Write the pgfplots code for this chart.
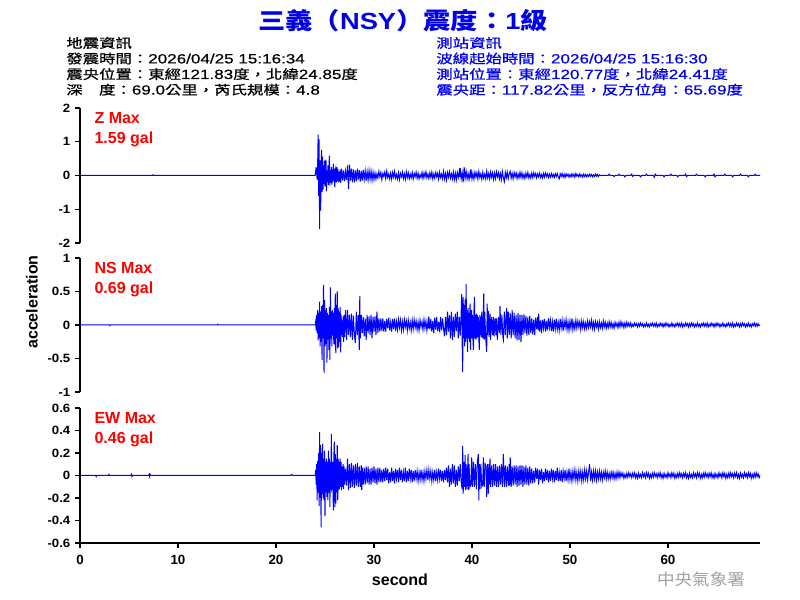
\documentclass[border=0pt]{standalone}
\usepackage{pgfplots}
\pgfplotsset{compat=1.18}
\usepackage{fontspec}
\setmainfont{Liberation Sans}
\newfontfamily\cjk[Scale=0.96, FakeBold=0.6]{Noto Sans CJK TC}
\newfontfamily\hlat[FakeBold=0.4]{Liberation Sans}
\newfontfamily\cjkt{Noto Sans CJK TC}
\definecolor{tr}{RGB}{0,0,255}
\definecolor{hb}{RGB}{0,0,235}
\definecolor{wm}{RGB}{160,160,160}
\pgfplotsset{
  panel/.style={
    scale only axis, width=510pt, xmin=0, xmax=69.39,
    axis y line*=left,
    axis line style={line width=0.9pt, black},
    tick align=outside, major tick length=3.4pt,
    tick style={black, line width=0.8pt},
    yticklabel style={font=\bfseries\fontsize{9}{10}\selectfont, xscale=1.1},
    xticklabel style={font=\bfseries\fontsize{10}{12}\selectfont, yshift=-2pt},
  },
  trace/.style={tr, line width=0.75pt, line join=miter},
}
\begin{document}
\begin{tikzpicture}[x=0.75pt,y=0.75pt]
\useasboundingbox (0,0) rectangle (800,600);

% ---------- Z ----------
\begin{axis}[panel, at={(60pt,267.75pt)}, anchor=south west, height=101.25pt,
  axis x line=none, ymin=-2, ymax=2, ytick={-2,-1,0,1,2}, yticklabels={-2,-1,0,1,2}]
\addplot[trace] table {
t y
0 0
7.4 0
7.45 0.02
7.5 0
24.0 0
24.1 0.25
24.2 -0.12
24.25 0.3
24.3 1.21
24.35 -0.6
24.4 1.07
24.45 -1.59
24.5 0.45
24.55 -1.04
24.6 -0.3
24.65 0.76
24.7 -0.49
24.75 0.56
24.8 -0.42
24.85 0.3
24.9 -0.25
24.95 0.44
25.0 -0.32
25.05 0.2
25.1 0.47
25.15 -0.46
25.2 0.15
25.25 -0.2
25.3 0.3
25.35 -0.28
25.4 0.2
25.45 0.59
25.5 -0.3
25.55 0.15
25.6 -0.22
25.65 0.25
25.7 -0.27
25.75 0.18
25.8 -0.2
25.85 0.35
25.9 -0.15
25.95 0.2
26.0 -0.35
26.05 0.15
26.1 0.22
26.15 -0.2
26.2 0.25
26.25 -0.15
26.3 0.2
26.35 -0.2
26.4 0.12
26.5 -0.18
26.55 0.18
26.6 -0.22
26.7 0.2
26.8 -0.15
26.9 0.15
27.0 -0.17
27.1 0.12
27.2 -0.13
27.3 0.3
27.4 -0.4
27.5 0.32
27.6 -0.15
27.7 0.2
27.8 -0.2
27.9 0.18
28.0 -0.2
28.1 0.15
28.2 -0.17
28.3 0.2
28.4 -0.12
28.5 0.16
28.6 -0.18
28.7 0.13
28.8 -0.15
28.9 0.17
29.0 -0.12
29.1 0.14
29.2 -0.16
29.3 0.12
29.4 -0.13
29.5 0.15
29.6 -0.11
29.7 0.13
29.8 -0.14
29.9 0.1
30.0 -0.12
30.1 0.08
30.2 -0.11
30.3 0.05
30.4 -0.07
30.5 0.12
30.6 -0.04
30.7 0.09
30.8 -0.12
30.9 0.06
31.0 -0.03
31.1 0.1
31.2 -0.09
31.3 0.13
31.4 -0.06
31.5 0.04
31.6 -0.1
31.7 0.07
31.8 -0.11
31.9 0.09
32.0 -0.05
32.1 0.12
32.2 -0.08
32.3 0.03
32.4 -0.1
32.5 0.08
32.6 -0.12
32.7 0.06
32.8 -0.04
32.9 0.1
33.0 -0.09
33.1 0.05
33.2 -0.11
33.3 0.11
33.4 -0.06
33.5 0.08
33.6 -0.1
33.7 0.04
33.8 -0.07
33.9 0.09
34.0 -0.1
34.1 0.06
34.2 -0.04
34.3 0.1
34.4 -0.08
34.5 0.07
34.6 -0.1
34.7 0.03
34.8 -0.06
34.9 0.09
35.0 -0.09
35.1 0.08
35.2 -0.05
35.3 0.11
35.4 -0.07
35.5 0.04
35.6 -0.09
35.7 0.08
35.8 -0.06
35.9 0.1
36.0 -0.1
36.1 0.05
36.2 -0.08
36.3 0.09
36.4 -0.04
36.5 0.07
36.6 -0.11
36.7 0.1
36.8 -0.06
36.9 0.04
37.0 -0.09
37.1 0.12
37.2 -0.1
37.3 0.06
37.4 -0.13
37.5 0.09
37.6 -0.05
37.7 0.11
37.8 -0.08
37.9 0.05
38.0 -0.1
38.1 0.1
38.2 -0.12
38.3 0.07
38.4 -0.13
38.5 0.09
38.6 -0.06
38.7 0.12
38.75 -0.05
38.8 0.22
38.9 -0.1
39.0 0.08
39.1 -0.2
39.2 0.25
39.3 -0.09
39.4 0.12
39.5 -0.1
39.6 0.06
39.7 -0.12
39.8 0.08
39.85 -0.06
39.9 0.18
40.0 -0.1
40.1 0.07
40.2 -0.11
40.3 0.1
40.4 -0.05
40.5 0.09
40.6 -0.1
40.7 0.12
40.8 -0.06
40.9 0.05
41.0 -0.11
41.1 0.09
41.2 -0.08
41.3 0.04
41.4 -0.1
41.5 0.13
41.6 -0.07
41.7 0.06
41.8 -0.1
41.9 0.1
42.0 -0.05
42.1 0.08
42.2 -0.11
42.3 0.07
42.4 -0.09
42.5 0.11
42.6 -0.04
42.7 0.08
42.8 -0.1
42.9 0.06
43.0 -0.12
43.1 0.12
43.2 -0.06
43.3 -0.18
43.4 0.09
43.5 -0.07
43.6 0.1
43.7 -0.09
43.8 0.05
43.9 0.12
44.0 -0.08
44.1 0.06
44.2 -0.1
44.3 0.09
44.4 -0.04
44.5 0.08
44.6 -0.09
44.7 0.05
44.8 -0.07
44.9 0.1
45.0 -0.06
45.1 0.08
45.2 -0.08
45.3 0.04
45.4 -0.09
45.5 0.07
45.6 -0.05
45.7 0.09
45.8 -0.07
45.9 0.03
46.0 -0.08
46.1 0.07
46.2 -0.06
46.3 0.08
46.4 -0.03
46.5 0.06
46.6 -0.07
46.7 0.05
46.8 -0.04
46.9 0.07
47.0 -0.06
47.1 0.03
47.2 -0.07
47.3 0.06
47.4 -0.05
47.5 0.07
47.6 -0.03
47.7 0.05
47.8 -0.06
47.9 0.04
48.0 -0.05
48.1 0.06
48.2 -0.04
48.3 0.03
48.4 -0.06
48.5 0.05
48.6 -0.03
48.7 0.06
48.8 -0.04
48.9 -0.1
49.0 0.05
49.1 -0.03
49.2 0.06
49.3 -0.05
49.4 0.04
49.5 -0.06
49.6 0.05
49.7 -0.02
49.8 0.04
49.9 -0.05
50.0 0.03
50.1 -0.04
50.2 0.05
50.3 -0.03
50.4 0.04
50.5 -0.05
50.6 0.06
50.7 -0.02
50.8 0.03
50.9 -0.04
51.0 0.05
51.1 -0.03
51.2 0.02
51.3 -0.05
51.4 0.04
51.5 -0.03
51.6 0.03
51.7 -0.04
51.8 0.02
51.9 -0.03
52.0 0.04
52.1 -0.02
52.2 0.03
52.3 -0.04
52.4 0.02
52.5 -0.03
52.6 0.04
52.7 -0.02
52.8 0.03
52.9 -0.03
53.0 0.02
53.1 0
53.9 0
54.0 0.04
54.1 0
54.4 0
54.5 -0.03
54.6 0
54.9 0
55.0 0.04
55.1 0
55.5 0
55.6 -0.04
55.7 0
56.2 0
56.3 0.04
56.4 -0.03
56.5 0
57.1 0
57.2 -0.04
57.3 0
57.7 0
57.8 0.04
57.9 0
58.5 0
58.6 -0.05
58.7 0.04
58.8 0
59.5 0
59.6 -0.04
59.7 0
60.2 0
60.3 0.04
60.4 0
60.9 0
61.0 -0.04
61.1 0
61.7 0
61.8 0.04
61.9 -0.03
62.0 0
62.8 0
62.9 0.04
63.0 0
63.7 0
63.8 -0.04
63.9 0
64.6 0
64.7 0.04
64.8 -0.04
64.9 0
65.7 0
65.8 0.04
65.9 0
66.5 0
66.6 -0.04
66.7 0
67.3 0
67.4 0.04
67.5 0
68.1 0
68.2 -0.04
68.3 0
68.8 0
68.9 0.04
69.0 0
69.39 0
};
\end{axis}

% ---------- NS ----------
\begin{axis}[panel, at={(60pt,156pt)}, anchor=south west, height=100.5pt,
  axis x line=none, ymin=-1, ymax=1, ytick={-1,-0.5,0,0.5,1}, yticklabels={-1,-0.5,0,0.5,1}]
\addplot[trace] table {
t y
0 0
3.0 0
3.05 -0.01
3.1 0
14.0 0
14.05 0.01
14.1 0
24.00 0
24.05 0.05
24.10 -0.08
24.15 0.15
24.20 -0.12
24.25 0.22
24.30 -0.23
24.35 0.18
24.40 -0.2
24.45 0.35
24.50 -0.32
24.55 0.2
24.60 -0.25
24.65 0.28
24.70 -0.52
24.75 0.3
24.80 -0.2
24.85 0.6
24.90 -0.71
24.95 0.37
25.00 -0.32
25.05 0.22
25.10 -0.28
25.15 0.25
25.20 -0.56
25.25 0.18
25.30 -0.22
25.35 0.15
25.40 -0.37
25.45 0.27
25.50 -0.52
25.55 0.56
25.60 -0.2
25.65 0.2
25.70 -0.32
25.75 0.22
25.80 -0.15
25.85 0.18
25.90 -0.28
25.95 0.25
26.00 -0.3
26.05 0.47
26.10 -0.42
26.15 0.3
26.20 -0.2
26.25 0.5
26.30 -0.35
26.35 0.25
26.40 -0.33
26.45 0.2
26.50 -0.25
26.55 0.27
26.60 -0.41
26.65 0.15
26.70 -0.15
26.75 0.07
26.80 -0.18
26.85 0.13
26.90 -0.25
26.95 0.15
27.00 -0.18
27.1 0.22
27.2 -0.22
27.3 0.22
27.4 -0.15
27.5 0.15
27.6 -0.18
27.7 0.17
27.8 -0.22
27.9 0.14
28.0 -0.15
28.1 -0.27
28.2 0.2
28.3 -0.15
28.4 0.15
28.5 -0.37
28.55 0.43
28.6 -0.2
28.7 0.15
28.8 -0.12
28.9 0.12
29.0 -0.17
29.1 0.1
29.2 -0.22
29.3 0.15
29.4 -0.12
29.5 0.13
29.6 -0.15
29.7 0.15
29.8 -0.2
29.9 0.12
30.0 -0.1
30.1 0.13
30.2 -0.15
30.3 0.2
30.4 -0.12
30.5 0.1
30.6 -0.1
30.7 0.1
30.8 -0.09
30.9 0.1
31.0 -0.1
31.1 0.06
31.2 -0.1
31.3 0.09
31.4 -0.05
31.5 0.11
31.6 -0.08
31.7 0.04
31.8 -0.1
31.9 0.09
32.0 -0.06
32.1 0.1
32.2 -0.09
32.3 0.05
32.4 -0.07
32.5 0.08
32.6 -0.04
32.7 0.07
32.8 -0.08
32.9 0.05
33.0 -0.07
33.1 0.08
33.2 -0.03
33.3 0.06
33.4 -0.08
33.5 0.07
33.6 -0.05
33.7 0.04
33.8 -0.08
33.9 0.07
34.0 -0.06
34.1 0.08
34.2 -0.04
34.3 0.06
34.4 -0.07
34.5 0.05
34.6 -0.08
34.7 0.07
34.8 -0.03
34.9 0.05
35.0 -0.07
35.1 0.08
35.2 -0.05
35.3 0.06
35.4 -0.08
35.5 0.04
35.55 -0.05
35.6 0.13
35.7 -0.07
35.8 0.09
35.9 -0.1
36.0 0.06
36.1 -0.12
36.2 0.11
36.3 -0.07
36.4 0.12
36.5 -0.09
36.6 0.05
36.7 -0.11
36.8 0.12
36.9 -0.08
37.0 0.1
37.1 -0.06
37.2 -0.17
37.3 0.12
37.4 -0.15
37.5 0.2
37.6 -0.1
37.7 0.15
37.8 -0.2
37.9 0.2
38.0 -0.22
38.1 0.12
38.2 -0.18
38.3 0.17
38.4 -0.09
38.5 0.2
38.6 -0.2
38.7 0.12
38.8 -0.16
38.90 0.2
38.95 0.46
39.00 -0.3
39.05 -0.7
39.10 0.42
39.15 -0.2
39.20 0.3
39.25 -0.32
39.30 0.38
39.35 -0.25
39.40 0.61
39.45 -0.2
39.50 0.22
39.55 -0.4
39.60 0.25
39.65 -0.2
39.70 0.18
39.75 -0.25
39.80 0.32
39.85 -0.37
39.90 0.15
39.95 0.22
40.00 -0.2
40.05 0.15
40.10 -0.22
40.15 -0.37
40.20 0.2
40.25 0.42
40.30 -0.2
40.35 0.15
40.40 -0.22
40.45 0.17
40.50 -0.2
40.55 0.15
40.60 -0.18
40.65 0.12
40.70 -0.22
40.75 -0.37
40.80 0.15
40.85 -0.15
40.90 0.12
40.95 -0.18
41.00 0.2
41.1 -0.2
41.2 0.47
41.25 -0.22
41.3 0.2
41.4 -0.2
41.5 -0.4
41.55 0.32
41.6 -0.15
41.67 0.21
41.75 -0.18
41.84 0.17
41.9 -0.22
42.0 0.12
42.1 -0.15
42.18 0.12
42.25 -0.17
42.35 0.1
42.45 -0.15
42.5 0.1
42.59 -0.22
42.7 0.12
42.8 -0.12
42.86 0.28
42.95 -0.15
43.05 0.15
43.15 -0.18
43.2 -0.22
43.3 0.2
43.4 -0.15
43.5 0.18
43.54 0.25
43.6 -0.2
43.7 0.2
43.8 -0.15
43.9 0.18
44.0 -0.2
44.1 0.22
44.2 -0.15
44.3 0.18
44.4 -0.2
44.5 0.15
44.6 -0.23
44.7 0.18
44.8 -0.22
44.9 0.15
45.0 -0.25
45.1 0.15
45.2 -0.15
45.3 0.16
45.4 -0.12
45.5 0.14
45.6 -0.16
45.7 0.12
45.8 -0.15
45.9 0.14
46.0 -0.12
46.1 0.1
46.2 -0.14
46.3 0.08
46.4 -0.15
46.5 0.11
46.6 -0.06
46.7 0.12
46.75 -0.08
46.8 0.17
46.9 -0.1
47.0 0.07
47.1 -0.12
47.2 0.08
47.3 -0.05
47.4 0.09
47.5 -0.1
47.6 0.06
47.7 -0.08
47.8 0.1
47.9 -0.04
48.0 0.07
48.1 -0.09
48.2 0.05
48.3 -0.1
48.4 0.08
48.5 -0.06
48.6 0.09
48.7 -0.07
48.8 0.04
48.9 -0.08
49.0 0.09
49.1 -0.05
49.2 0.07
49.3 -0.09
49.4 0.06
49.5 -0.04
49.6 0.08
49.7 -0.07
49.8 0.05
49.9 -0.08
50.0 0.06
50.1 -0.05
50.2 0.1
50.3 -0.07
50.4 0.04
50.5 -0.06
50.6 0.07
50.7 -0.05
50.8 0.06
50.9 -0.03
51.0 0.05
51.1 -0.07
51.2 0.06
51.3 -0.04
51.4 0.05
51.5 -0.06
51.6 0.03
51.7 -0.05
51.8 0.06
51.9 -0.04
52.0 0.05
52.1 -0.03
52.2 0.07
52.3 -0.05
52.4 0.04
52.5 -0.06
52.6 0.05
52.7 -0.03
52.8 0.04
52.9 -0.06
53.0 0.05
53.1 -0.04
53.2 0.03
53.3 -0.05
53.4 0.06
53.5 -0.03
53.6 0.04
53.7 -0.05
53.8 0.03
53.9 -0.04
54.0 0.05
54.1 -0.03
54.2 0.04
54.3 -0.04
54.4 0.02
54.5 -0.05
54.6 0.04
54.7 -0.02
54.8 0.03
54.9 -0.04
55.0 0.04
55.1 -0.03
55.2 0.05
55.3 -0.02
55.4 0.03
55.5 -0.04
55.6 0.03
55.7 -0.03
55.8 0.04
55.9 -0.02
56.0 0.03
56.1 -0.02
56.2 0.03
56.3 -0.03
56.4 0.01
56.5 -0.02
56.6 0.03
56.7 -0.01
56.8 0.02
56.9 -0.03
57.0 0.02
57.1 -0.02
57.2 0.03
57.3 -0.01
57.4 0.02
57.5 -0.03
57.6 0.01
57.7 -0.02
57.8 0.03
57.9 -0.02
58.0 0.01
58.1 -0.03
58.2 0.02
58.3 -0.01
58.4 0.03
58.5 -0.02
58.6 0.02
58.7 -0.02
58.8 0.03
58.9 -0.03
59.0 0.01
59.1 -0.02
59.2 0.03
59.3 -0.01
59.4 0.02
59.5 -0.03
59.6 0.02
59.7 -0.02
59.8 0.03
59.9 -0.01
60.0 0.02
60.1 -0.03
60.2 0.01
60.3 -0.02
60.4 0.03
60.5 -0.02
60.6 0.01
60.7 -0.03
60.8 0.02
60.9 -0.01
61.0 0.03
61.1 -0.02
61.2 0.02
61.3 -0.02
61.4 0.03
61.5 -0.03
61.6 0.01
61.7 -0.02
61.8 0.03
61.9 -0.01
62.0 0.02
62.1 -0.03
62.2 0.02
62.3 -0.02
62.4 0.03
62.5 -0.01
62.6 0.02
62.7 -0.03
62.8 0.01
62.9 -0.02
63.0 0.03
63.1 -0.02
63.2 0.01
63.3 -0.03
63.4 0.02
63.5 -0.01
63.6 0.03
63.7 -0.02
63.8 0.02
63.9 -0.02
64.0 0.03
64.1 -0.03
64.2 0.01
64.3 -0.02
64.4 0.03
64.5 -0.01
64.6 0.02
64.7 -0.03
64.8 0.02
64.9 -0.02
65.0 0.03
65.1 -0.01
65.2 0.02
65.3 -0.03
65.4 0.01
65.5 -0.02
65.6 0.03
65.7 -0.02
65.8 0.01
65.9 -0.03
66.0 0.02
66.1 -0.01
66.2 0.03
66.3 -0.02
66.4 0.02
66.5 -0.02
66.6 0.03
66.7 -0.03
66.8 0.01
66.9 -0.02
67.0 0.03
67.1 -0.01
67.2 0.02
67.3 -0.03
67.4 0.02
67.5 -0.02
67.6 0.03
67.7 -0.01
67.8 0.02
67.9 -0.03
68.0 0.01
68.1 -0.02
68.2 0.03
68.3 -0.02
68.4 0.01
68.5 -0.03
68.6 0.02
68.7 -0.01
68.8 0.03
68.9 -0.02
69.0 0.02
69.1 -0.02
69.2 0.02
69.3 -0.01
69.39 0
};
\end{axis}

% ---------- EW ----------
\begin{axis}[panel, at={(60pt,42.75pt)}, anchor=south west, height=101.25pt,
  axis x line*=bottom, ymin=-0.6, ymax=0.6,
  ytick={-0.6,-0.4,-0.2,0,0.2,0.4,0.6}, yticklabels={-0.6,-0.4,-0.2,0,0.2,0.4,0.6},
  xtick={0,10,20,30,40,50,60}, xticklabels={0,10,20,30,40,50,60}]
\addplot[trace] table {
t y
0 0
1.6 0
1.65 -0.01
1.7 0
2.9 0
2.95 0.01
3.0 0
5.2 0
5.25 0.01
5.3 -0.01
5.35 0
7.0 0
7.05 0.01
7.1 -0.01
7.15 0.01
7.2 0
21.5 0
21.6 0.01
21.7 0
24.00 0
24.05 0.05
24.10 -0.08
24.15 0.1
24.20 -0.22
24.25 0.13
24.30 -0.15
24.35 0.2
24.40 -0.27
24.45 0.385
24.50 -0.2
24.55 0.27
24.60 -0.46
24.65 0.2
24.70 -0.16
24.75 0.28
24.80 -0.2
24.85 0.15
24.90 -0.22
24.95 0.22
25.00 -0.36
25.05 0.12
25.10 -0.15
25.15 0.15
25.20 -0.19
25.25 0.12
25.30 -0.22
25.35 0.22
25.40 -0.15
25.45 0.15
25.50 -0.28
25.55 0.12
25.60 -0.13
25.65 0.37
25.70 -0.12
25.75 -0.1
25.80 0.12
25.85 -0.31
25.90 0.15
25.95 0.3
26.00 -0.28
26.05 0.19
26.10 -0.25
26.15 0.15
26.20 -0.15
26.25 0.27
26.30 -0.22
26.35 0.15
26.40 -0.13
26.45 0.12
26.50 -0.12
26.55 0.15
26.60 -0.1
26.65 0.12
26.70 -0.13
26.75 0.08
26.80 -0.1
26.85 0.1
26.90 -0.12
26.95 0.08
27.00 -0.08
27.1 0.06
27.2 -0.09
27.3 0.15
27.4 -0.13
27.5 0.1
27.6 -0.11
27.7 0.11
27.8 -0.1
27.9 0.09
28.0 -0.11
28.1 0.1
28.2 -0.09
28.3 0.11
28.4 -0.1
28.5 0.08
28.6 -0.1
28.7 0.09
28.75 -0.13
28.8 0.07
28.9 -0.08
29.0 0.07
29.1 -0.08
29.2 0.08
29.3 -0.07
29.4 0.08
29.5 -0.08
29.6 0.06
29.7 -0.08
29.8 0.07
29.9 -0.06
30.0 0.08
30.1 -0.07
30.2 0.06
30.3 -0.08
30.4 0.07
30.5 -0.06
30.6 0.07
30.7 -0.06
30.8 0.05
30.9 -0.06
31.0 0.06
31.1 -0.05
31.2 0.07
31.3 -0.04
31.4 0.06
31.5 -0.07
31.6 0.03
31.7 -0.06
31.8 0.07
31.9 -0.05
32.0 0.04
32.1 -0.07
32.2 0.06
32.3 -0.03
32.4 0.05
32.5 -0.06
32.6 0.07
32.7 -0.04
32.8 0.05
32.9 -0.06
33.0 0.03
33.1 -0.05
33.2 0.07
33.3 -0.06
33.4 0.04
33.5 -0.05
33.6 0.06
33.7 -0.03
33.8 0.05
33.9 -0.06
34.0 0.04
34.1 -0.05
34.2 0.05
34.3 -0.03
34.4 0.04
34.5 -0.05
34.6 0.03
34.7 -0.04
34.8 0.05
34.9 -0.04
35.0 0.03
35.1 -0.05
35.2 0.04
35.3 -0.03
35.4 0.05
35.5 -0.04
35.6 0.05
35.7 -0.03
35.8 0.04
35.9 -0.05
36.0 0.03
36.1 -0.04
36.2 0.05
36.3 -0.05
36.4 0.03
36.5 -0.04
36.6 0.06
36.7 -0.03
36.8 0.05
36.9 -0.05
37.0 0.04
37.1 -0.06
37.2 0.05
37.3 -0.04
37.4 0.07
37.5 -0.06
37.6 0.09
37.7 -0.1
37.8 0.06
37.9 -0.08
38.0 0.1
38.1 -0.07
38.2 0.09
38.3 -0.1
38.4 0.05
38.5 -0.09
38.6 0.08
38.7 -0.05
38.8 0.1
38.9 -0.06
39.0 -0.12
39.05 0.26
39.1 -0.16
39.2 0.12
39.25 -0.1
39.3 0.18
39.35 -0.13
39.4 0.1
39.5 -0.12
39.6 0.19
39.65 -0.13
39.7 0.1
39.8 -0.1
39.9 -0.08
39.97 0.16
40.05 -0.1
40.15 0.12
40.25 -0.1
40.35 0.1
40.45 -0.12
40.55 0.12
40.65 0.19
40.7 -0.22
40.75 0.1
40.82 -0.12
40.9 0.1
41.0 -0.1
41.1 -0.08
41.16 0.16
41.25 -0.1
41.35 0.1
41.45 0.08
41.5 -0.19
41.6 0.1
41.67 -0.16
41.75 0.1
41.8 -0.08
41.84 0.15
41.9 -0.1
42.0 0.09
42.1 -0.1
42.2 0.1
42.3 -0.09
42.4 0.1
42.5 -0.1
42.6 0.08
42.7 -0.1
42.8 0.09
42.9 -0.08
43.0 0.1
43.1 -0.1
43.2 0.19
43.3 -0.1
43.4 0.09
43.5 -0.1
43.6 0.08
43.7 -0.09
43.8 0.1
43.85 -0.09
43.9 0.16
44.0 -0.1
44.1 0.08
44.2 -0.09
44.3 0.09
44.4 -0.08
44.5 0.09
44.6 -0.1
44.7 0.08
44.8 -0.09
44.9 0.09
45.0 -0.08
45.1 0.09
45.2 -0.1
45.3 0.08
45.4 -0.08
45.5 0.09
45.6 -0.08
45.7 0.07
45.8 -0.09
45.9 0.08
46.0 -0.07
46.1 0.06
46.2 -0.07
46.3 0.04
46.4 -0.06
46.5 0.07
46.6 -0.03
46.7 0.06
46.8 -0.08
46.9 0.05
47.0 -0.04
47.1 0.06
47.2 -0.07
47.3 0.03
47.4 -0.05
47.5 0.06
47.6 -0.04
47.7 0.05
47.8 -0.06
47.9 0.04
48.0 -0.05
48.1 0.06
48.2 -0.03
48.3 0.05
48.4 -0.06
48.5 0.04
48.6 -0.04
48.7 0.07
48.8 -0.05
48.9 0.03
49.0 -0.05
49.1 0.05
49.2 -0.06
49.3 0.04
49.4 -0.03
49.5 0.05
49.6 -0.05
49.7 0.03
49.8 -0.04
49.9 0.06
50.0 -0.04
50.1 0.03
50.2 -0.05
50.3 0.04
50.4 -0.03
50.5 0.05
50.6 -0.04
50.7 0.03
50.8 -0.05
50.9 0.04
51.0 -0.03
51.1 0.04
51.2 -0.05
51.3 0.03
51.4 -0.04
51.5 0.05
51.6 -0.03
51.7 0.04
51.8 -0.04
51.9 0.03
52.0 0.1
52.1 -0.05
52.2 0.03
52.3 -0.04
52.4 0.04
52.5 -0.03
52.6 0.04
52.7 -0.04
52.8 0.03
52.9 -0.03
53.0 0.04
53.1 -0.03
53.2 0.03
53.3 -0.04
53.4 0.03
53.5 -0.02
53.6 0.04
53.7 -0.03
53.8 0.03
53.9 -0.03
54.0 0.02
54.1 -0.03
54.2 0.03
54.3 -0.02
54.4 0.03
54.5 -0.03
54.6 0.02
54.7 -0.03
54.8 0.03
54.9 -0.02
55.0 0.03
55.1 -0.02
55.2 0.025
55.3 -0.01
55.4 0.02
55.5 -0.025
55.6 0.01
55.7 -0.02
55.8 0.02
55.9 -0.015
56.0 0.025
56.1 -0.01
56.2 0.015
56.3 -0.02
56.4 0.02
56.5 -0.01
56.6 0.025
56.7 -0.02
56.8 0.01
56.9 -0.025
57.0 0.02
57.1 -0.015
57.2 0.01
57.3 -0.02
57.4 0.025
57.5 -0.01
57.6 0.015
57.7 -0.02
57.8 0.025
57.9 -0.01
58.0 0.02
58.1 -0.025
58.2 0.01
58.3 -0.02
58.4 0.02
58.5 -0.015
58.6 0.025
58.7 -0.01
58.8 0.015
58.9 -0.02
59.0 0.02
59.1 -0.01
59.2 0.025
59.3 -0.02
59.4 0.01
59.5 -0.025
59.6 0.02
59.7 -0.015
59.8 0.01
59.9 -0.02
60.0 0.025
60.1 -0.01
60.2 0.015
60.3 -0.02
60.4 0.025
60.5 -0.01
60.6 0.02
60.7 -0.025
60.8 0.01
60.9 -0.02
61.0 0.02
61.1 -0.015
61.2 0.025
61.3 -0.01
61.4 0.015
61.5 -0.02
61.6 0.02
61.7 -0.01
61.8 0.025
61.9 -0.02
62.0 0.01
62.1 -0.025
62.2 0.02
62.3 -0.015
62.4 0.01
62.5 -0.02
62.6 0.025
62.7 -0.01
62.8 0.015
62.9 -0.02
63.0 0.025
63.1 -0.01
63.2 0.02
63.3 -0.025
63.4 0.01
63.5 -0.02
63.6 0.02
63.7 -0.015
63.8 0.025
63.9 -0.01
64.0 0.015
64.1 -0.02
64.2 0.02
64.3 -0.01
64.4 0.025
64.5 -0.02
64.6 0.01
64.7 -0.025
64.8 0.02
64.9 -0.015
65.0 0.01
65.1 -0.02
65.2 0.025
65.3 -0.01
65.4 0.015
65.5 -0.02
65.6 0.025
65.7 -0.01
65.8 0.02
65.9 -0.025
66.0 0.01
66.1 -0.02
66.2 0.02
66.3 -0.015
66.4 0.025
66.5 -0.01
66.6 0.015
66.7 -0.02
66.8 0.02
66.9 -0.01
67.0 0.025
67.1 -0.02
67.2 0.01
67.3 -0.025
67.4 0.02
67.5 -0.015
67.6 0.01
67.7 -0.02
67.8 0.025
67.9 -0.01
68.0 0.015
68.1 -0.02
68.2 0.025
68.3 -0.01
68.4 0.02
68.5 -0.025
68.6 0.01
68.7 -0.02
68.8 0.02
68.9 -0.015
69.0 0.025
69.1 -0.01
69.2 0.015
69.3 -0.02
69.39 0
};
\end{axis}

% ---------- texts ----------
\node[anchor=base, xscale=1.17, text=hb, font=\bfseries\fontsize{17.5}{20}\selectfont] at (403,570.7)
  {{\cjkt\bfseries 三義（}NSY{\cjkt\bfseries ）震度：}1{\cjkt\bfseries 級}};

\begin{scope}[every node/.style={anchor=base west, xscale=1.28, font=\fontsize{10}{12}\selectfont\hlat, inner sep=0pt}]
\node at (66,552.2) {\cjk 地震資訊};
\node at (66,536.6) {{\cjk 發震時間：}2026/04/25 15:16:34};
\node at (66,521.0) {{\cjk 震央位置：東經}121.83{\cjk 度，北緯}24.85{\cjk 度}};
\node at (66,505.4) {{\cjk 深　度：}69.0{\cjk 公里，芮氏規模：}4.8};
\node[text=hb] at (436,552.2) {\cjk 測站資訊};
\node[text=hb] at (436,536.6) {{\cjk 波線起始時間：}2026/04/25 15:16:30};
\node[text=hb] at (436,521.0) {{\cjk 測站位置：東經}120.77{\cjk 度，北緯}24.41{\cjk 度}};
\node[text=hb] at (436,505.4) {{\cjk 震央距：}117.82{\cjk 公里，反方位角：}65.69{\cjk 度}};
\end{scope}

\begin{scope}[every node/.style={anchor=base west, text=red, font=\bfseries\fontsize{12}{14}\selectfont, inner sep=0pt}]
\node at (94.3,476.7) {Z Max};
\node at (94.3,456.7) {1.59 gal};
\node at (94.3,326.7) {NS Max};
\node at (94.3,306.7) {0.69 gal};
\node at (94.3,176.7) {EW Max};
\node at (94.3,156.7) {0.46 gal};
\end{scope}

\node[anchor=base, font=\bfseries\fontsize{12}{14}\selectfont, inner sep=0pt] at (400,15) {second};
\node[rotate=90, anchor=center, font=\bfseries\fontsize{12}{14}\selectfont, inner sep=0pt] at (32,298) {acceleration};
\node[anchor=center, text=wm, xscale=1.1, font=\fontsize{12}{14}\selectfont\cjkt, inner sep=0pt] at (701,21) {中央氣象署};
\end{tikzpicture}
\end{document}
